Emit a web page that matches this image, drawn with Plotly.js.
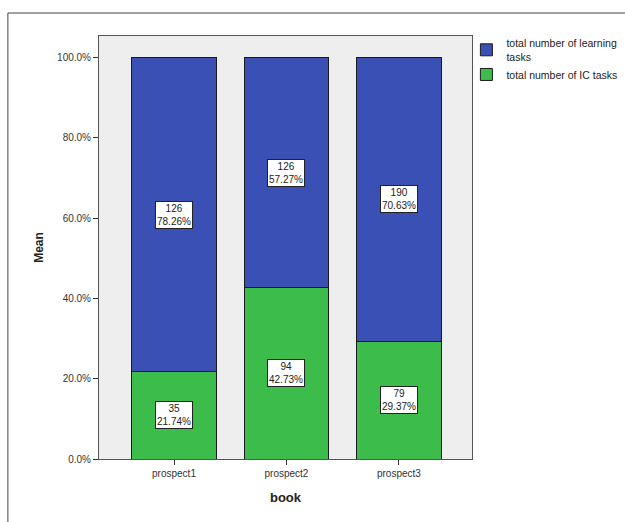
<!DOCTYPE html>
<html>
<head>
<meta charset="utf-8">
<script src="https://cdn.plot.ly/plotly-3.0.1.min.js"></script>
<style>
  html, body { margin: 0; padding: 0; background: #ffffff; }
  #chart { width: 625px; height: 522px; }
</style>
</head>
<body>
<div id="chart"></div>
<script>
// Categories
const books = ["prospect1", "prospect2", "prospect3"];
// Counts shown in labels
const learningCounts = [126, 126, 190];
const icCounts = [35, 94, 79];
// Percentages (stacked to 100%)
const learningPct = [78.26, 57.27, 70.63];
const icPct = [21.74, 42.73, 29.37];
// Legend names
const learningName = "total number of learning<br>tasks";
const icName = "total number of IC tasks";
// Tick labels
const yTickVals = [0, 20, 40, 60, 80, 100];
const yTickText = ["0.0%", "20.0%", "40.0%", "60.0%", "80.0%", "100.0%"];

const blue = "#3a50b5";
const green = "#3cbd4b";

const traces = [
  {
    type: "bar", name: icName, x: books, y: icPct,
    marker: { color: green, line: { color: "#1a1a1a", width: 1 } },
    width: 0.755, hoverinfo: "none"
  },
  {
    type: "bar", name: learningName, x: books, y: learningPct,
    marker: { color: blue, line: { color: "#1a1a1a", width: 1 } },
    width: 0.755, hoverinfo: "none"
  }
];

const annotations = [];
books.forEach((b, i) => {
  annotations.push({
    x: b, y: icPct[i] / 2, xref: "x", yref: "y",
    text: icCounts[i] + "<br>" + icPct[i].toFixed(2) + "%",
    showarrow: false, bgcolor: "#ffffff", bordercolor: "#222222", borderwidth: 1,
    borderpad: 1, font: { family: "Liberation Sans, Arial, sans-serif", size: 10, color: "#222" }
  });
  annotations.push({
    x: b, y: icPct[i] + learningPct[i] / 2, xref: "x", yref: "y",
    text: learningCounts[i] + "<br>" + learningPct[i].toFixed(2) + "%",
    showarrow: false, bgcolor: "#ffffff", bordercolor: "#222222", borderwidth: 1,
    borderpad: 1, font: { family: "Liberation Sans, Arial, sans-serif", size: 10, color: "#222" }
  });
});

const layout = {
  width: 625, height: 522,
  margin: { l: 99, r: 153, t: 36, b: 63, autoexpand: false },
  paper_bgcolor: "#ffffff",
  plot_bgcolor: "#eeeeee",
  barmode: "stack",
  showlegend: true,
  font: { family: "Liberation Sans, Arial, sans-serif", size: 10, color: "#333" },
  legend: {
    x: 0.985, xanchor: "left", y: 1.015, yanchor: "top",
    bgcolor: "rgba(0,0,0,0)", font: { size: 10.5, color: "#222" },
    itemwidth: 30, tracegroupgap: 0
  },
  xaxis: {
    type: "category", range: [-0.667, 2.65],
    showgrid: false, zeroline: false,
    showline: true, linecolor: "#555", linewidth: 1, mirror: true,
    ticks: "outside", ticklen: 5, tickcolor: "#333",
    tickfont: { size: 10, color: "#333" },
    title: { text: "book", font: { size: 13, color: "#222", family: "Liberation Sans, Arial, sans-serif", weight: "bold" }, standoff: 14 }
  },
  yaxis: {
    range: [0, 105.4],
    tickvals: yTickVals, ticktext: yTickText,
    showgrid: false, zeroline: false,
    showline: true, linecolor: "#555", linewidth: 1, mirror: true,
    ticks: "outside", ticklen: 5, tickcolor: "#333",
    tickfont: { size: 10, color: "#333" },
    title: { text: "Mean", font: { size: 12, color: "#222", family: "Liberation Sans, Arial, sans-serif", weight: "bold" }, standoff: 10 }
  },
  annotations: annotations,
  shapes: [
    {
      type: "rect", xref: "paper", yref: "paper", layer: "below",
      x0: -0.2443, x1: 1.5, y0: -0.2, y1: 1.0543,
      line: { color: "#444", width: 1 }, fillcolor: "rgba(0,0,0,0)"
    }
  ]
};

Plotly.newPlot("chart", traces, layout, { displayModeBar: false, staticPlot: true });
</script>
</body>
</html>
